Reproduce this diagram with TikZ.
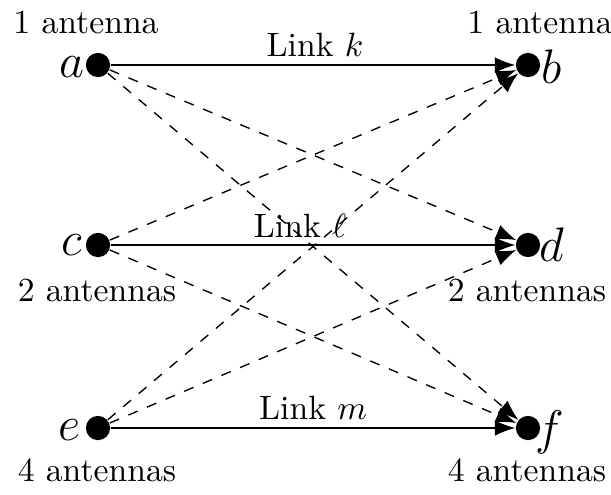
\documentclass[tikz,border=0pt]{standalone}
\usetikzlibrary{arrows.meta}
\begin{document}
\begin{tikzpicture}[x=0.2967pt,y=-0.2967pt,
  dot/.style={circle,fill=black,inner sep=0pt,minimum size=7.2pt},
  lnk/.style={-{Latex[length=6pt,width=4.6pt]}},
  cross/.style={lnk,dashed},
  lbl/.style={font=\Large},
  txt/.style={font=\normalsize}]
\useasboundingbox (0,0) rectangle (611,494);
\node[dot] (a) at (98,65) {};
\node[dot] (b) at (528,65) {};
\node[dot] (c) at (98,245) {};
\node[dot] (d) at (528,245) {};
\node[dot] (e) at (98,428) {};
\node[dot] (f) at (528,428) {};
\node[lbl] (la) at (72,67) {$a$};
\node[lbl] (lb) at (552,67) {$b$};
\node[lbl] (lc) at (72,245) {$c$};
\node[lbl] (ld) at (552,245) {$d$};
\node[lbl] (le) at (70,430) {$e$};
\node[lbl] (lf) at (550,432) {$f$};
\node[txt] (ta) at (86,22) {1 antenna};
\node[txt] (tb) at (540,22) {1 antenna};
\node[txt] (tc) at (97,290) {2 antennas};
\node[txt] (td) at (527,290) {2 antennas};
\node[txt] (te) at (97,470) {4 antennas};
\node[txt] (tf) at (527,470) {4 antennas};
\node[txt] (lk) at (315,45) {Link $k$};
\node[txt] (ll) at (300,226) {Link $\ell$};
\node[txt] (lm) at (313,408) {Link $m$};
\draw[lnk] (a) -- (b);
\draw[lnk] (c) -- (d);
\draw[lnk] (e) -- (f);
\draw[cross] (a) -- (d);
\draw[cross] (a) -- (f);
\draw[cross] (c) -- (b);
\draw[cross] (c) -- (f);
\draw[cross] (e) -- (b);
\draw[cross] (e) -- (d);
\end{tikzpicture}
\end{document}
